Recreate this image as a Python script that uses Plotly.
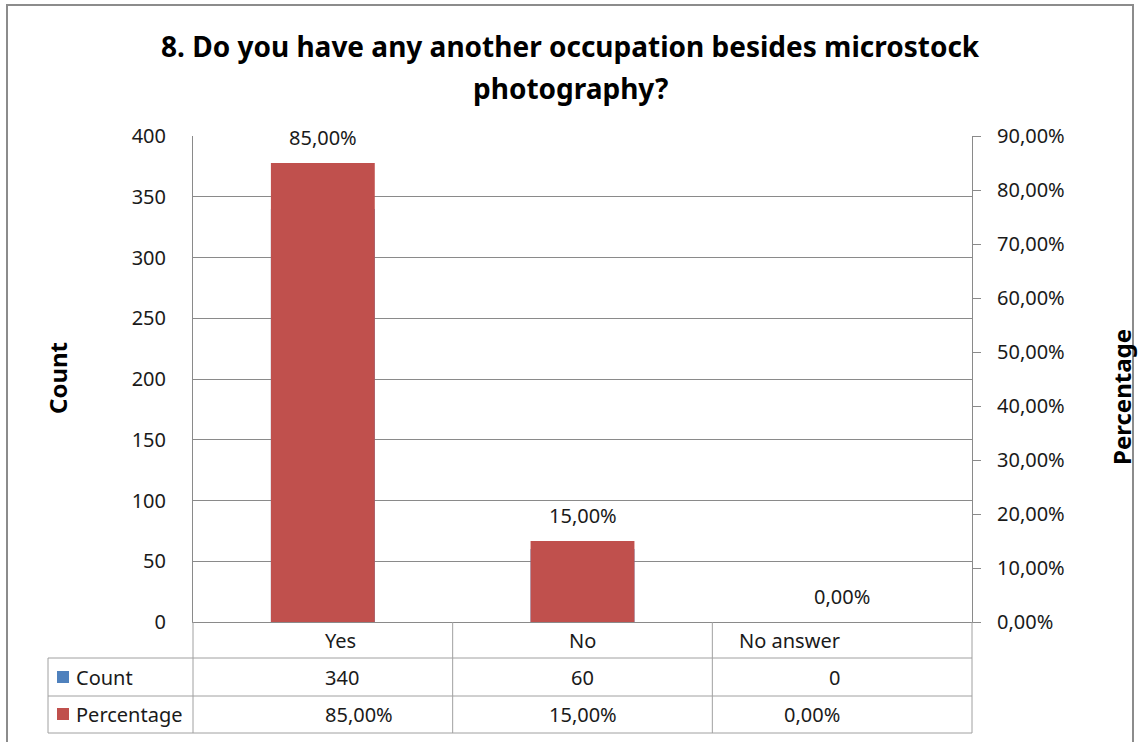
import plotly.graph_objects as go

# Survey answers
categories = ["Yes", "No", "No answer"]
counts = [340, 60, 0]
percentages = [0.85, 0.15, 0.00]
count_labels = ["340", "60", "0"]
percent_labels = ["85,00%", "15,00%", "0,00%"]
series_names = ["Count", "Percentage"]

title_lines = ["8. Do you have any another occupation besides microstock", "photography?"]

BLUE = "#4F81BD"
RED = "#C0504D"
GRID = "#8a8a8a"
TABLE = "#a0a0a0"
FONT = "Noto Sans"
TXT = "#1a1a1a"

W, H = 1138, 742
L, R, T, B = 193, 972, 136, 622  # plot area in pixels


def px(x):
    return (x - L) / (R - L)


def py(y):
    return (B - y) / (B - T)


fig = go.Figure()
fig.add_trace(go.Bar(x=categories, y=counts, name=series_names[0],
                     marker=dict(color=BLUE, line=dict(width=0)), width=0.4, yaxis="y"))
fig.add_trace(go.Bar(x=categories, y=percentages, name=series_names[1],
                     marker=dict(color=RED, line=dict(width=0)),
                     width=0.4, yaxis="y2"))

shapes = []
# chart frame
shapes.append(dict(type="rect", xref="paper", yref="paper",
                   x0=px(7), x1=px(1133), y0=py(760), y1=py(5),
                   line=dict(color="#8c8c8c", width=2), layer="below"))

# data table grid
row_lines = [658, 696, 733]
n = len(categories)
for yy in row_lines:
    shapes.append(dict(type="line", xref="paper", yref="paper",
                       x0=px(48), x1=1, y0=py(yy), y1=py(yy),
                       line=dict(color=TABLE, width=1)))
for i in range(n + 1):
    shapes.append(dict(type="line", xref="paper", yref="paper",
                       x0=i / n, x1=i / n, y0=py(B), y1=py(733),
                       line=dict(color=TABLE, width=1)))
shapes.append(dict(type="line", xref="paper", yref="paper",
                   x0=px(48), x1=px(48), y0=py(658), y1=py(733),
                   line=dict(color=TABLE, width=1)))

# legend swatches inside the table
for yy, col in zip([677, 714], [BLUE, RED]):
    shapes.append(dict(type="rect", xref="paper", yref="paper",
                       x0=px(57), x1=px(69), y0=py(yy - 6), y1=py(yy + 6),
                       fillcolor=col, line=dict(width=0)))

ann = []
tfont = dict(family=FONT, size=20, color=TXT)
# title
for line, yy in zip(title_lines, [46, 88]):
    ann.append(dict(text=line, xref="paper", yref="paper", x=px(570), y=py(yy),
                    xanchor="center", yanchor="middle", showarrow=False,
                    font=dict(family=FONT, size=28, color="#000000", weight="bold")))
# axis titles
ann.append(dict(text="Count", xref="paper", yref="paper", x=px(57), y=py(378),
                textangle=-90, showarrow=False, xanchor="center", yanchor="middle",
                font=dict(family=FONT, size=24, color="#000000", weight="bold")))
ann.append(dict(text="Percentage", xref="paper", yref="paper", x=px(1121), y=py(397),
                textangle=-90, showarrow=False, xanchor="center", yanchor="middle",
                font=dict(family=FONT, size=24, color="#000000", weight="bold")))
# value labels above the percentage bars
for c, v, lab in zip(categories, percentages, percent_labels):
    ann.append(dict(text=lab, x=c, y=v, xref="x", yref="y2", yanchor="bottom",
                    yshift=10, showarrow=False, font=tfont))
# table text
for i, c in enumerate(categories):
    xc = (i + 0.5) / n
    ann.append(dict(text=c, xref="paper", yref="paper", x=xc, y=py(640),
                    showarrow=False, yanchor="middle", font=tfont))
    ann.append(dict(text=count_labels[i], xref="paper", yref="paper", x=xc, y=py(677),
                    showarrow=False, yanchor="middle", font=tfont))
    ann.append(dict(text=percent_labels[i], xref="paper", yref="paper", x=xc, y=py(714),
                    showarrow=False, yanchor="middle", font=tfont))
for name, yy in zip(series_names, [677, 714]):
    ann.append(dict(text=name, xref="paper", yref="paper", x=px(74), y=py(yy),
                    xanchor="left", yanchor="middle", showarrow=False, font=tfont))

fig.update_layout(
    width=W, height=H,
    margin=dict(l=L, r=W - R, t=T, b=H - B),
    paper_bgcolor="white", plot_bgcolor="white",
    barmode="overlay", showlegend=False,
    separators=", ",
    font=dict(family=FONT, size=20, color=TXT),
    xaxis=dict(range=[-0.5, 2.5], showticklabels=False, ticks="",
               showline=True, linecolor=GRID, linewidth=1, showgrid=False,
               fixedrange=True),
    yaxis=dict(range=[0, 400], dtick=50, showgrid=True, gridcolor=GRID, gridwidth=1,
               showline=True, linecolor=GRID, linewidth=1, ticks="",
               ticklabelstandoff=22, zeroline=False,
               tickfont=dict(family=FONT, size=20, color=TXT)),
    yaxis2=dict(range=[0, 0.9], dtick=0.1, tickformat=".2%", overlaying="y",
                side="right", showgrid=False, showline=True, linecolor=GRID,
                linewidth=1, ticks="outside", ticklen=8, tickcolor=GRID,
                ticklabelstandoff=12, zeroline=False,
                tickfont=dict(family=FONT, size=20, color=TXT)),
    shapes=shapes, annotations=ann,
)

fig.write_html("out.html")
